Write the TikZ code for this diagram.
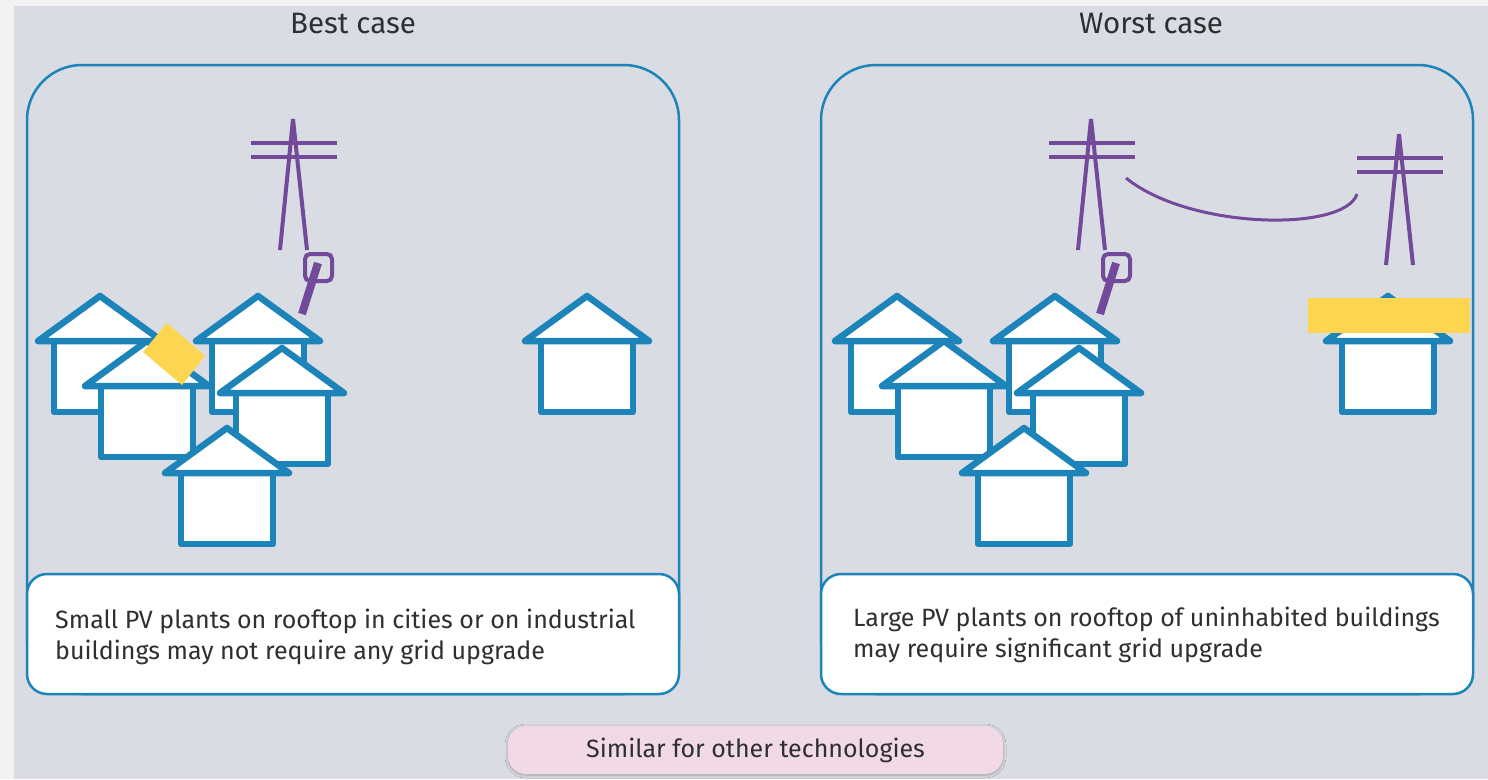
\documentclass[tikz,border=0pt]{standalone}
\usepackage{fontspec}
\setmainfont{Fira Sans}
\usetikzlibrary{shadows.blur}

\definecolor{pagebg}{HTML}{F2F2F2}
\definecolor{panelbg}{HTML}{D9DCE3}
\definecolor{frameblue}{HTML}{1C84B8}
\definecolor{gridpurple}{HTML}{734A9A}
\definecolor{pvyellow}{HTML}{FED550}
\definecolor{notepink}{HTML}{F2D9E6}
\definecolor{inktext}{HTML}{2E2E33}

\begin{document}
\begin{tikzpicture}[x=1pt, y=-1pt,
  housestroke/.style={draw=frameblue, fill=white, line width=6.5pt, line join=round, line cap=round},
  house/.pic={
    \filldraw[housestroke] (-46,45) rectangle (46,116);
    \filldraw[housestroke] (-62,45) -- (0,0) -- (62,45) -- cycle;
  },
  gridline/.style={draw=gridpurple, line width=4pt},
  mast/.pic={
    \draw[gridline] (-42,24) -- (44,24);
    \draw[gridline] (-42,38) -- (44,38);
    \draw[gridline] (0,0) -- (-13,131);
    \draw[gridline] (0,0) -- (14,131);
  },
  tap/.pic={
    \draw[gridline, rounded corners=5pt] (12,135) rectangle (39,162);
    \draw[draw=gridpurple, line width=8pt] (25,144) -- (9,195);
  },
  casebox/.style={draw=frameblue, line width=2.5pt, rounded corners=55pt},
  notebox/.style={draw=frameblue, fill=white, line width=2.5pt, rounded corners=20pt},
  title/.style={text=inktext, font=\fontsize{29.5}{34}\selectfont},
  note/.style={text=inktext, font=\fontsize{25}{31}\selectfont, align=left, anchor=west, inner sep=0pt},
]
\useasboundingbox (0,0) rectangle (1488,779);
\fill[pagebg] (0,0) rectangle (1488,779);
\fill[panelbg] (14,6) rectangle (1488,779);

% titles
\node[title] (besttitle) at (353,24) {Best case};
\node[title] (worsttitle) at (1151,24) {Worst case};

% ---------- best case ----------
\draw[casebox] (27,65) rectangle (679,694);
\pic at (293,119) {mast};
\pic at (293,119) {tap};
\pic at (100,296) {house};
\pic at (258,296) {house};
\pic at (147,341) {house};
\fill[pvyellow] (167,323) -- (205,356) -- (182,385) -- (143,352) -- cycle;
\pic at (282,348) {house};
\pic at (227,428) {house};
\pic at (587,296) {house};
\draw[notebox] (27,574) rectangle (679,694);
\node[note] (bestnote) at (55,636.5) {Small PV plants on rooftop in cities or on industrial\\buildings may not require any grid upgrade};

% ---------- worst case ----------
\draw[casebox] (821,65) rectangle (1473,694);
\pic at (1091,119) {mast};
\pic at (1091,119) {tap};
\pic at (1399,134) {mast};
\draw[draw=gridpurple, line width=3pt] (1126,178) .. controls (1190,230) and (1345,232) .. (1357,194);
\pic at (897,296) {house};
\pic at (1055,296) {house};
\pic at (944,341) {house};
\pic at (1079,348) {house};
\pic at (1024,428) {house};
\pic at (1388,296) {house};
\fill[pvyellow] (1308,298) rectangle (1470,333);
\draw[notebox] (821,574) rectangle (1473,694);
\node[note] (worstnote) at (853,634.5) {Large PV plants on rooftop of uninhabited buildings\\may require significant grid upgrade};

% footer
\node[fill=notepink, rounded corners=18pt, minimum width=495pt, minimum height=48pt, inner sep=0pt,
      text=inktext, font=\fontsize{25}{30}\selectfont,
      blur shadow={shadow xshift=0pt, shadow yshift=-1pt, shadow blur radius=3pt, shadow opacity=30}]
      (footer) at (755.5,750) {Similar for other technologies};
\end{tikzpicture}
\end{document}
